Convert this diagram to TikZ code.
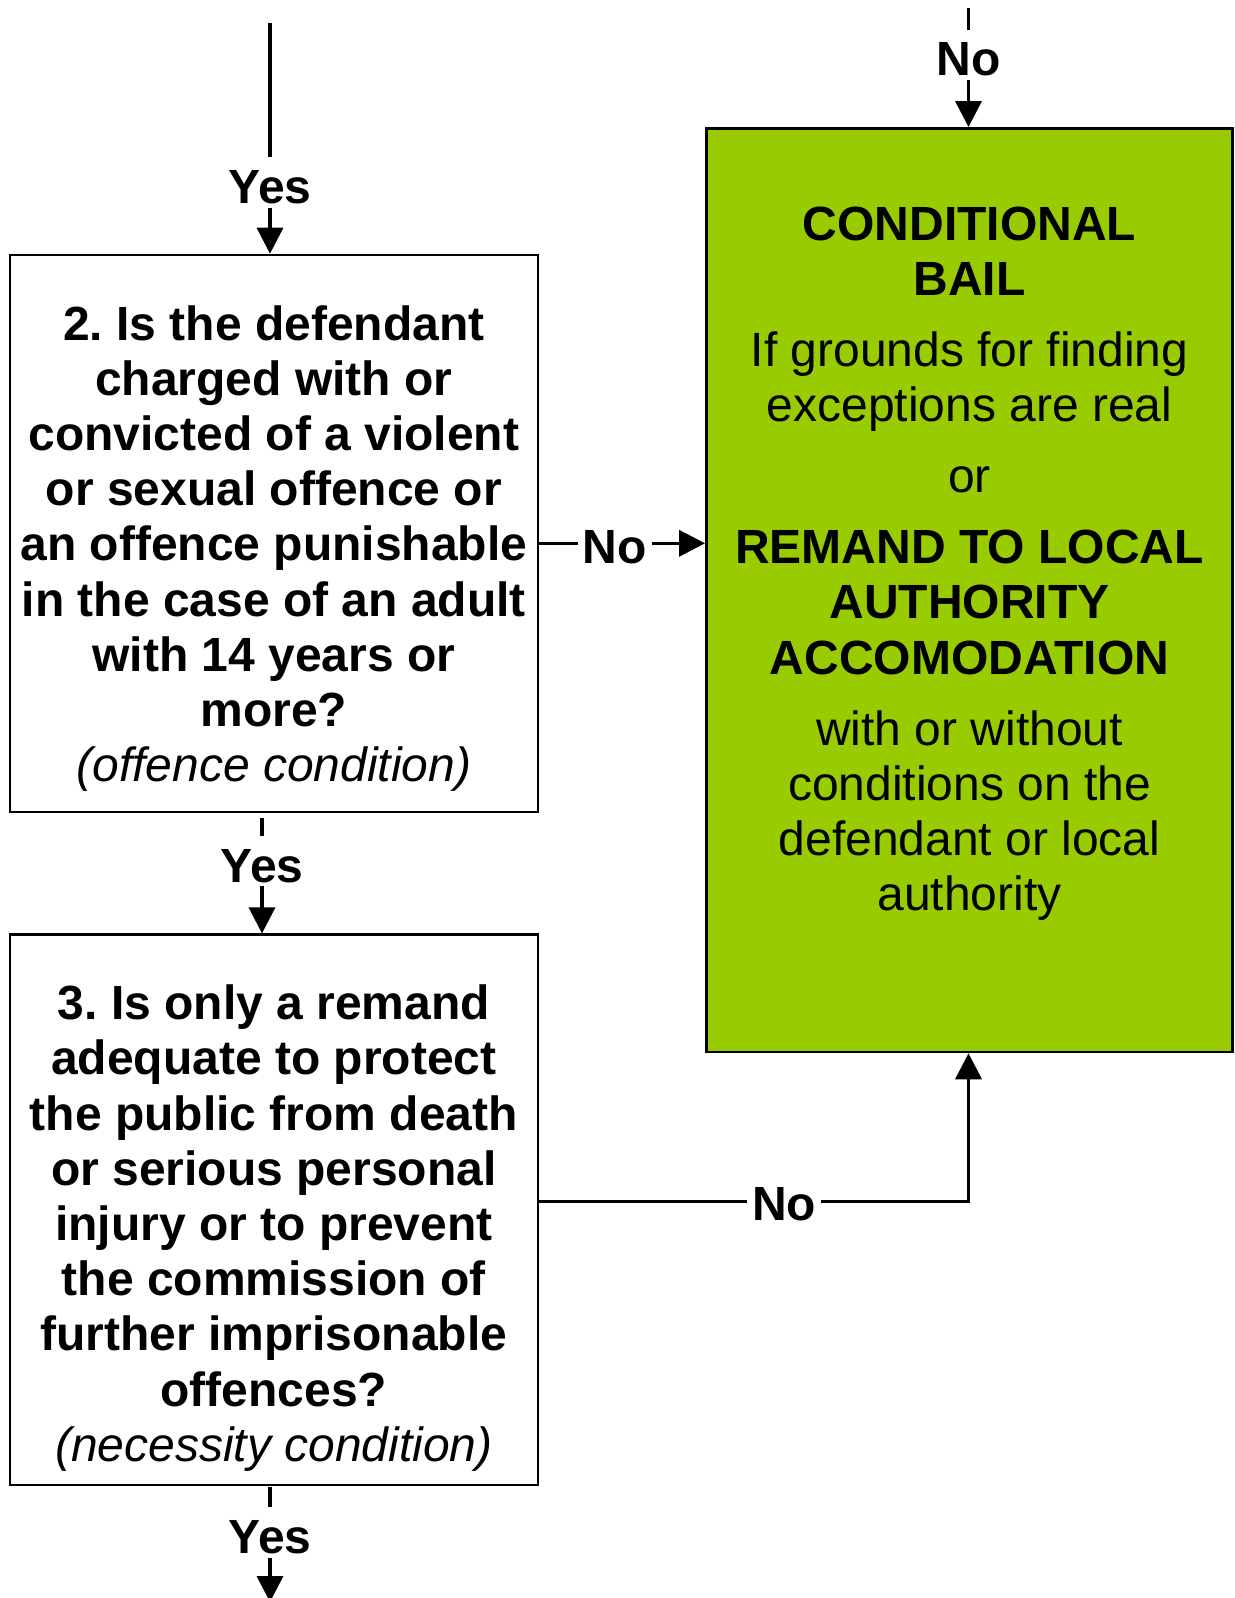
\documentclass[tikz,border=0pt]{standalone}
\usepackage{fontspec}
\setmainfont{Liberation Sans}
\usetikzlibrary{arrows.meta}
\definecolor{bailgreen}{HTML}{99CC00}
\frenchspacing
\begin{document}
\begin{tikzpicture}[x=1pt,y=-1pt,
  conn/.style={line width=3.5pt},
  arr/.style={line width=3.5pt,-{Triangle[length=26pt,width=26pt]}},
  qbox/.style={draw,line width=2.2pt,minimum width=527.7pt,inner sep=0pt},
  gbox/.style={draw,fill=bailgreen,line width=2.5pt,minimum width=526.2pt,minimum height=923.7pt,inner sep=0pt},
  qtext/.style={font=\fontsize{48}{55.2}\selectfont\bfseries\frenchspacing,align=center,inner sep=0pt,anchor=north},
  lbl/.style={font=\fontsize{48}{55.2}\selectfont\bfseries,inner sep=0pt,inner xsep=5pt,text height=46pt,text depth=4pt,anchor=base},
]
\path[use as bounding box] (0,0) rectangle (1234,1598);

% boxes
\node[qbox,minimum height=557.4pt] (box2) at (273.85,533.5) {};
\node[qbox,minimum height=550.5pt] (box3) at (273.85,1209.75) {};
\node[gbox] (green) at (969.4,590.15) {};

% box texts
\node[qtext] (box2t) at (273.85,293.8) {\rule{0pt}{46pt}2.\ Is the defendant\\
charged with or\\
convicted of a violent\\
or sexual offence or\\
an offence punishable\\
in the case of an adult\\
with 14 years or\\
more?\\
\mdseries\itshape (offence condition)};

\node[qtext] (box3t) at (273.85,973.5) {\rule{0pt}{46pt}3.\ Is only a remand\\
adequate to protect\\
the public from death\\
or serious personal\\
injury or to prevent\\
the commission of\\
further imprisonable\\
offences?\\
\mdseries\itshape (necessity condition)};

\node[qtext] (greent) at (969.5,194) {\rule{0pt}{46pt}CONDITIONAL\\
BAIL\\[15.8pt]
\mdseries If grounds for finding\\
\mdseries exceptions are real\\[15.8pt]
\mdseries or\\[15.8pt]
REMAND TO LOCAL\\
AUTHORITY\\
ACCOMODATION\\[15.8pt]
\mdseries with or without\\
\mdseries conditions on the\\
\mdseries defendant or local\\
\mdseries authority};

% labels
\node[lbl] (yes1) at (270,203.3) {Yes};
\node[lbl] (yes2) at (262,882) {Yes};
\node[lbl] (yes3) at (270,1553.3) {Yes};
\node[lbl] (notop) at (968.5,75.8) {No};
\node[lbl] (no1) at (614.7,563.3) {No};
\node[lbl] (no3) at (784.1,1220) {No};

% free ends
\coordinate (c1) at (270,22.7);
\coordinate (c2) at (262,817.7);
\coordinate (c3) at (270,1487.3);
\coordinate (c4) at (968.5,8.4);
\coordinate (tip) at (270,1602);
\coordinate (r1) at (614.7,543.3);
\coordinate (r3) at (784.1,1201.7);
\coordinate (bend) at (968.5,1201.7);

% connectors
\draw[conn] (c1) -- (yes1);
\draw[arr] (yes1) -- (yes1 |- box2.north);
\draw[conn] (c2) -- (yes2);
\draw[arr] (yes2) -- (yes2 |- box3.north);
\draw[conn] (c3) -- (yes3);
\draw[arr] (yes3) -- (tip);
\draw[conn] (c4) -- (notop);
\draw[arr] (notop) -- (notop |- green.north);
\draw[conn] (box2.east |- r1) -- (no1.west |- r1);
\draw[arr] (no1.east |- r1) -- (green.west |- r1);
\draw[conn] (box3.east |- r3) -- (no3.west |- r3);
\draw[arr] (no3.east |- r3) -- (bend) -- (bend |- green.south);
\end{tikzpicture}
\end{document}
